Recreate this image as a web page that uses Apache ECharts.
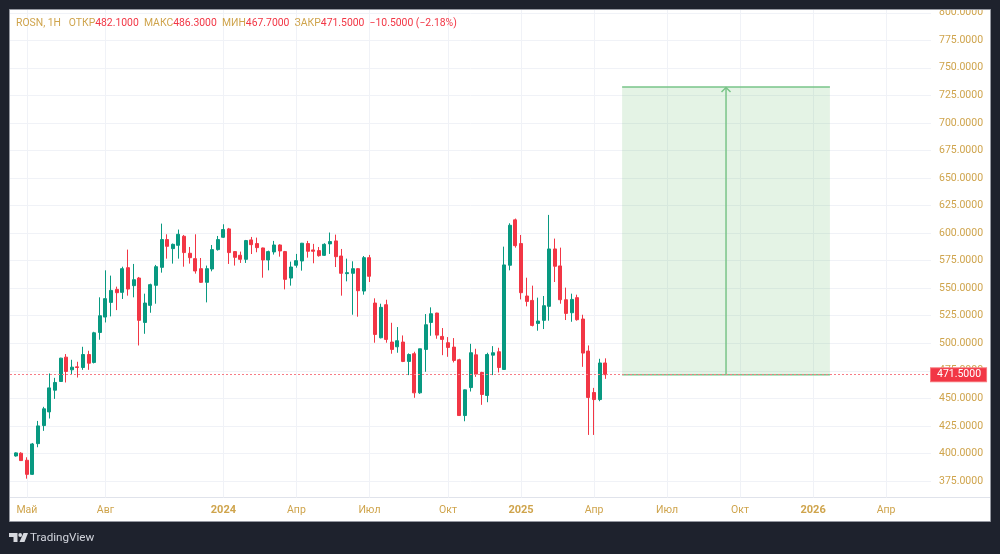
<!DOCTYPE html>
<html>
<head>
<meta charset="utf-8">
<title>ROSN</title>
<script src="https://cdn.jsdelivr.net/npm/echarts@6/dist/echarts.min.js"></script>
<style>
html,body{margin:0;padding:0;background:#1e222d}
#chart{width:1000px;height:554px}
</style>
</head>
<body>
<div id="chart"></div>
<script>
// Weekly ROSN candles, oldest first
const opens = [397.7,400.2,393.8,381.0,408.9,425.3,437.7,457.4,465.3,487.4,475.9,478.6,478.0,489.8,482.6,509.8,523.8,537.1,548.9,546.2,568.6,552.3,559.2,518.9,534.4,552.6,568.9,594.1,585.9,588.9,597.1,581.7,576.8,567.7,555.3,567.4,585.0,596.2,603.8,583.2,579.9,576.2,593.8,590.5,586.5,575.6,582.9,589.2,583.2,559.2,570.8,574.7,590.5,584.7,584.1,579.8,590.2,592.9,579.2,563.2,563.5,567.7,547.4,577.7,536.5,505.0,535.0,501.1,496.8,501.1,483.5,490.5,455.0,494.4,518.9,527.4,506.2,500.5,496.5,485.0,434.4,459.8,489.5,473.5,452.6,489.2,492.3,476.2,570.8,612.0,590.5,542.9,538.9,518.0,520.8,533.5,585.6,570.2,539.5,527.7,541.4,522.0,492.9,455.3,448.9,482.1];
const closes = [400.5,393.5,381.0,408.6,425.0,440.5,459.5,464.4,486.5,474.4,478.3,478.0,489.8,481.9,509.5,525.0,540.5,548.0,545.9,567.7,549.2,557.7,520.8,536.5,553.2,569.5,594.1,588.0,589.8,598.9,582.3,577.7,565.6,555.3,567.7,585.0,594.1,603.2,582.3,578.0,576.2,593.2,589.5,586.8,575.6,583.2,589.2,583.8,558.0,569.2,575.0,590.8,583.5,583.5,579.5,589.8,592.3,578.6,563.5,564.1,567.7,547.7,577.7,560.8,508.0,532.6,503.5,494.4,502.3,483.5,489.8,455.0,495.0,516.8,526.8,507.4,503.5,496.2,484.4,434.4,457.7,491.4,472.0,453.5,489.8,491.4,478.0,571.1,607.1,588.6,545.9,538.0,516.2,520.2,534.1,585.6,569.9,539.5,527.1,539.8,521.4,491.1,450.8,448.9,482.1,471.5];
const lows = [397.1,393.2,377.1,380.5,405.6,420.5,431.7,449.5,465.0,464.4,471.4,468.9,475.9,475.9,481.7,503.2,518.9,524.4,530.1,540.2,543.2,541.7,498.0,508.6,527.7,535.9,564.1,576.8,572.3,576.8,569.5,572.3,563.2,554.7,537.1,565.3,584.1,595.6,572.0,570.5,572.9,572.9,581.0,582.6,559.5,566.2,580.5,578.6,548.9,552.3,568.6,565.9,577.7,572.6,578.6,579.2,581.1,569.2,543.2,556.2,525.9,524.1,544.1,555.6,500.5,504.4,500.5,490.5,491.4,482.9,471.1,450.5,454.1,474.1,506.8,504.1,489.2,487.7,482.6,434.4,429.2,456.2,469.5,444.1,446.5,471.1,473.5,476.2,566.2,586.8,539.8,533.5,515.3,511.4,512.9,520.5,555.6,535.9,521.1,519.5,520.5,478.6,416.8,416.8,447.4,467.7];
const highs = [401.0,401.1,396.5,409.5,429.5,442.3,472.6,468.6,486.8,490.2,485.0,483.2,496.8,493.2,510.4,541.7,566.2,561.4,551.4,569.5,585.0,572.0,560.2,545.0,554.1,571.1,608.6,598.9,590.5,603.2,598.3,587.4,598.9,577.4,570.5,589.2,597.4,608.0,604.7,583.5,583.2,593.8,596.5,595.9,586.8,584.1,592.9,589.8,583.8,574.1,581.1,591.1,592.9,590.2,587.4,590.8,600.5,598.6,585.6,576.8,574.4,568.3,579.2,580.2,540.8,535.9,539.5,518.6,514.7,507.1,490.8,492.3,495.0,526.5,532.6,527.7,513.8,505.6,504.7,485.9,458.0,499.5,495.0,474.1,491.4,497.4,495.9,587.7,608.9,613.2,598.3,559.5,552.3,541.4,542.9,616.5,595.0,586.8,550.5,545.0,544.1,525.9,498.0,459.5,485.9,486.3];

const lastPrice = 471.5;
const targetPrice = 732.6;
const slotCount = 165;
const zoneStartSlot = 109;
const zoneEndSlot = 146;

const priceTicks = [375,400,425,450,475,500,525,550,575,600,625,650,675,700,725,750,775,800];
const timeSlots = [3,17,38,51,64,78,91,104,117,130,143,156];
const timeLabels = ['Май','Авг','2024','Апр','Июл','Окт','2025','Апр','Июл','Окт','2026','Апр'];

const GOLD = '#cfa44c';
const UP = '#089981';
const DOWN = '#f23645';
const FRAME_BG = '#1e222d';
const GRID_LINE = '#f0f2f7';

// Slot 0 sits on the left edge of the plot; candles begin at slot 1
const categories = Array.from({length: slotCount}, (_, i) => {
  const k = timeSlots.indexOf(i);
  return k >= 0 ? timeLabels[k] : '';
});
const candles = opens.map((o, i) => [o, closes[i], lows[i], highs[i]]);
const candleData = [null].concat(candles).map(v => v === null ? '-' : v);

const isTimeTick = (index) => timeSlots.indexOf(index) >= 0;
const fmt = (v) => v.toFixed(4);
const last = opens.length - 1;

const headerText =
  '{g|ROSN, 1Н   ОТКР}{r|' + fmt(opens[last]) + '}{g|  МАКС}{r|' + fmt(highs[last]) +
  '}{g|  МИН}{r|' + fmt(lows[last]) + '}{g|  ЗАКР}{r|' + fmt(closes[last]) +
  '}{r|  −10.5000 (−2.18%)}';

const chart = echarts.init(document.getElementById('chart'), null, {renderer: 'canvas'});

chart.setOption({
  animation: false,
  backgroundColor: FRAME_BG,
  textStyle: {fontFamily: 'Roboto'},
  title: {
    left: 16, top: 18,
    padding: 0,
    text: headerText,
    textStyle: {
      fontWeight: 'normal',
      rich: {
        g: {color: GOLD, fontSize: 10.4, fontWeight: 'normal', fontFamily: 'Roboto'},
        r: {color: DOWN, fontSize: 10.4, fontWeight: 'normal', fontFamily: 'Roboto'}
      }
    }
  },
  grid: {left: 10, top: 10, width: 921, height: 487.5, containLabel: false},
  xAxis: {
    type: 'category',
    data: categories,
    boundaryGap: false,
    axisLine: {show: false},
    axisTick: {show: false},
    axisLabel: {
      interval: (index) => isTimeTick(index),
      color: GOLD,
      fontSize: 10.5,
      margin: 7,
      hideOverlap: false,
      formatter: (v) => /^\d+$/.test(v) ? '{y|' + v + '}' : v,
      rich: {y: {color: GOLD, fontSize: 11, fontWeight: 'bold'}}
    },
    splitLine: {
      show: true,
      interval: (index) => isTimeTick(index),
      lineStyle: {color: GRID_LINE, width: 1}
    }
  },
  yAxis: {
    type: 'value',
    position: 'right',
    min: 360,
    max: 802.5,
    scale: true,
    axisLine: {show: false},
    axisTick: {show: false, customValues: priceTicks},
    axisLabel: {
      customValues: priceTicks,
      color: GOLD,
      fontSize: 10.5,
      margin: 8,
      formatter: (v) => fmt(v)
    },
    splitLine: {show: true, lineStyle: {color: GRID_LINE, width: 1}}
  },
  series: [
    {
      // Projected move: shaded range, its edges and the arrow up to the target
      type: 'custom',
      z: 3,
      silent: true,
      coordinateSystem: 'cartesian2d',
      encode: {x: [0, 1], y: [2, 3]},
      data: [[zoneStartSlot, zoneEndSlot, lastPrice, targetPrice]],
      renderItem: (params, api) => {
        const a = api.coord([api.value(0), api.value(3)]);
        const b = api.coord([api.value(1), api.value(2)]);
        const mid = (a[0] + b[0]) / 2;
        const line = {stroke: '#79c488', lineWidth: 1.5, fill: null};
        return {
          type: 'group',
          children: [
            {type: 'rect', shape: {x: a[0], y: a[1], width: b[0] - a[0], height: b[1] - a[1]},
             style: {fill: 'rgba(76,175,80,0.15)'}},
            {type: 'line', shape: {x1: a[0], y1: a[1], x2: b[0], y2: a[1]}, style: line},
            {type: 'line', shape: {x1: a[0], y1: b[1], x2: b[0], y2: b[1]}, style: line},
            {type: 'line', shape: {x1: mid, y1: a[1], x2: mid, y2: b[1]}, style: line},
            {type: 'polyline', shape: {points: [[mid - 4.5, a[1] + 5], [mid, a[1] + 0.5], [mid + 4.5, a[1] + 5]]}, style: line}
          ]
        };
      }
    },
    {
      type: 'candlestick',
      data: candleData,
      barWidth: 3.5,
      z: 4,
      silent: true,
      itemStyle: {
        color: UP,
        color0: DOWN,
        borderColor: UP,
        borderColor0: DOWN,
        borderWidth: 1
      },
      markLine: {
        silent: true,
        symbol: 'none',
        animation: false,
        data: [{yAxis: lastPrice}],
        lineStyle: {color: '#f77c86', type: [2, 2], width: 1, opacity: 1},
        label: {
          show: true,
          position: 'end',
          distance: 0,
          formatter: () => fmt(lastPrice),
          color: '#ffffff',
          fontSize: 10.5,
          lineHeight: 11,
          backgroundColor: DOWN,
          borderColor: '#f77c80',
          borderWidth: 1,
          padding: [1, 5, 1, 6]
        }
      }
    }
  ],
  graphic: {
    elements: [
      // White chart panel
      {type: 'rect', z: -10, silent: true,
       shape: {x: 9.5, y: 9.5, width: 981, height: 512},
       style: {fill: '#ffffff', stroke: '#9598a1', lineWidth: 1}},
      // Separator above the time axis
      {type: 'line', z: -5, silent: true,
       shape: {x1: 10, y1: 497.5, x2: 990, y2: 497.5},
       style: {stroke: '#e0e3eb', lineWidth: 1}},
      // Band over the top edge so the highest price label is cut off by the frame
      {type: 'rect', z: 50, silent: true,
       shape: {x: 0, y: 0, width: 1000, height: 9},
       style: {fill: FRAME_BG}},
      {type: 'line', z: 50, silent: true,
       shape: {x1: 9.5, y1: 9.5, x2: 990.5, y2: 9.5},
       style: {stroke: '#9598a1', lineWidth: 1}},
      // TradingView mark and name
      {type: 'polygon', silent: true,
       shape: {points: [[9,533],[17.5,533],[17.5,542],[13.5,542],[13.5,537],[9,537]]},
       style: {fill: '#d6d8de'}},
      {type: 'circle', silent: true,
       shape: {cx: 20.2, cy: 535, r: 1.9},
       style: {fill: '#d6d8de'}},
      {type: 'polygon', silent: true,
       shape: {points: [[23.5,533],[28,533],[24.5,542],[19.5,542]]},
       style: {fill: '#d6d8de'}},
      {type: 'text', silent: true, x: 30, y: 532,
       style: {text: 'TradingView', fill: '#d1d4dc', fontSize: 11.7, fontFamily: 'Roboto'}}
    ]
  }
});
</script>
</body>
</html>
